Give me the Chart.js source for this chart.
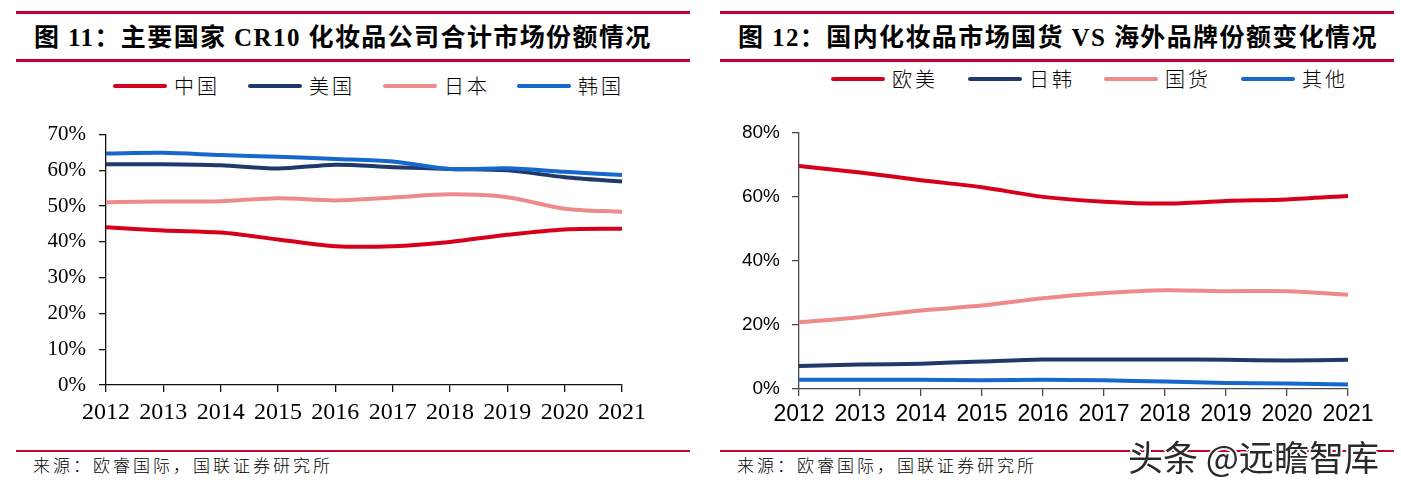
<!DOCTYPE html>
<html>
<head>
<meta charset="utf-8">
<script src="https://cdn.jsdelivr.net/npm/chart.js@4.4.1/dist/chart.umd.min.js"></script>
<style>
  body { margin: 0; background: #fff; width: 1401px; height: 487px; overflow: hidden; position: relative; }
  .rule { position: absolute; height: 3px; background: #C4002F; }
  .thin { height: 2px; }
  .titolo { position: absolute; top: 17px; font-family: "Liberation Serif", "Noto Sans CJK SC", serif; font-weight: bold; font-size: 25px; letter-spacing: 1.4px; color: #000; white-space: nowrap; }
  .fonte { position: absolute; top: 452px; font-family: "Liberation Serif", "Noto Sans CJK SC", serif; font-weight: 300; font-size: 17px; letter-spacing: 3px; color: #000; white-space: nowrap; }
  .leg { position: absolute; height: 24px; font-family: "Noto Sans CJK SC", serif; font-weight: 300; font-size: 20px; letter-spacing: 3px; color: #000; white-space: nowrap; }
  .leg span.seg { position: absolute; left: 0; top: 10px; width: 54px; height: 4px; border-radius: 2px; }
  .leg span.txt { position: absolute; left: 61px; top: -3px; }
  canvas { position: absolute; }
  #box_sx { position: absolute; left: 0; top: 109px; width: 700px; height: 326px; }
  #box_dx { position: absolute; left: 700px; top: 109px; width: 701px; height: 326px; }
  .filigrana { position: absolute; left: 1128px; top: 430px; font-family: "Noto Sans CJK SC", sans-serif; font-size: 35px; color: #2a2a2a; white-space: nowrap;
    text-shadow: -2px 0 #fff, 2px 0 #fff, 0 -2px #fff, 0 2px #fff, -1px -1px #fff, 1px 1px #fff, -1px 1px #fff, 1px -1px #fff; }
</style>
</head>
<body>

<div class="rule" style="left:16px; width:674px; top:11px;"></div>
<div class="rule" style="left:16px; width:674px; top:59px;"></div>
<div class="titolo" style="left:34px;">图 11：主要国家 CR10 化妆品公司合计市场份额情况</div>

<div class="rule" style="left:720px; width:674px; top:11px;"></div>
<div class="rule" style="left:720px; width:674px; top:59px;"></div>
<div class="titolo" style="left:738px;">图 12：国内化妆品市场国货 VS 海外品牌份额变化情况</div>

<div id="legenda_sx"></div>
<div id="legenda_dx"></div>

<div id="box_sx"><canvas id="grafico_paesi"></canvas></div>
<div id="box_dx"><canvas id="grafico_marchi"></canvas></div>

<div class="rule thin" style="left:16px; width:674px; top:450px;"></div>
<div class="fonte" style="left:33px;">来源：欧睿国际，国联证券研究所</div>
<div class="rule thin" style="left:720px; width:674px; top:450px;"></div>
<div class="fonte" style="left:737px;">来源：欧睿国际，国联证券研究所</div>
<div class="filigrana">头条 @远瞻智库</div>

<script>
// anni sull'asse x
var anni = ['2012', '2013', '2014', '2015', '2016', '2017', '2018', '2019', '2020', '2021'];

// grafico 11 - quota CR10 per paese (%)
var cina    = [44.1, 43.2, 42.6, 40.7, 38.8, 38.8, 40.0, 42.0, 43.5, 43.7];
var usa     = [61.7, 61.7, 61.4, 60.5, 61.6, 60.9, 60.4, 60.0, 58.1, 56.9];
var giappone = [51.1, 51.3, 51.4, 52.2, 51.6, 52.4, 53.3, 52.5, 49.3, 48.4];
var corea   = [64.7, 64.9, 64.3, 63.8, 63.2, 62.5, 60.4, 60.6, 59.6, 58.7];
var tick_sx = [0, 10, 20, 30, 40, 50, 60, 70];

// grafico 12 - quote mercato interno (%)
var euro_usa  = [69.5, 67.5, 65.1, 62.9, 59.9, 58.4, 57.8, 58.6, 59.1, 60.2];
var giap_corea = [7.2, 7.6, 7.9, 8.6, 9.2, 9.2, 9.2, 9.1, 8.9, 9.1];
var nazionali = [20.8, 22.4, 24.5, 26.0, 28.3, 29.9, 30.8, 30.5, 30.5, 29.4];
var altri     = [2.9, 2.9, 2.9, 2.7, 2.9, 2.7, 2.3, 1.9, 1.7, 1.4];
var tick_dx = [0, 20, 40, 60, 80];

var rosso = '#D7001B';
var blu_scuro = '#1F3A68';
var rosa = '#EE8A8A';
var blu = '#1668CC';

// legende html
function disegna_legenda(id, voci, colori, posizioni, top) {
  var html = '';
  for (var i = 0; i < voci.length; i++) {
    html += '<div class="leg" style="left:' + posizioni[i] + 'px; top:' + top + 'px;">' +
      '<span class="seg" style="background:' + colori[i] + '"></span>' +
      '<span class="txt">' + voci[i] + '</span></div>';
  }
  document.getElementById(id).innerHTML = html;
}

disegna_legenda('legenda_sx', ['中国', '美国', '日本', '韩国'], [rosso, blu_scuro, rosa, blu], [113, 248, 383, 517], 74);
disegna_legenda('legenda_dx', ['欧美', '日韩', '国货', '其他'], [rosso, blu_scuro, rosa, blu], [831, 968, 1104, 1241], 67);

function serie(etichetta, dati, colore, ordine) {
  return {
    label: etichetta,
    data: dati,
    borderColor: colore,
    backgroundColor: colore,
    borderWidth: 4,
    pointRadius: 0,
    tension: 0.3,
    fill: false,
    order: ordine
  };
}

function opzioni(max, passo, larghezza_y, altezza_x, pad_destra, font_y, font_x, colore_asse, pad_x, pad_y) {
  return {
    responsive: true,
    maintainAspectRatio: false,
    animation: false,
    layout: { padding: { top: 12, right: pad_destra, bottom: 0, left: 0 } },
    plugins: { legend: { display: false }, tooltip: { enabled: false } },
    scales: {
      x: {
        offset: false,
        grid: { drawOnChartArea: false, drawTicks: true, tickLength: 7, color: colore_asse, lineWidth: 1.3 },
        border: { display: true, color: colore_asse, width: 1.3 },
        ticks: { color: '#000', font: font_x, padding: pad_x, maxRotation: 0, autoSkip: false },
        afterFit: function(s) { s.height = altezza_x; }
      },
      y: {
        min: 0,
        max: max,
        grid: { drawOnChartArea: false, drawTicks: true, tickLength: 7, color: colore_asse, lineWidth: 1.3 },
        border: { display: true, color: colore_asse, width: 1.3 },
        ticks: { stepSize: passo, color: '#000', font: font_y, padding: pad_y,
          callback: function(v) { return v + '%'; } },
        afterFit: function(s) { s.width = larghezza_y; }
      }
    }
  };
}

new Chart(document.getElementById('grafico_paesi'), {
  type: 'line',
  data: {
    labels: anni,
    datasets: [
      serie('中国', cina, rosso, 4),
      serie('美国', usa, blu_scuro, 2),
      serie('日本', giappone, rosa, 3),
      serie('韩国', corea, blu, 1)
    ]
  },
  options: opzioni(tick_sx[tick_sx.length - 1], tick_sx[1] - tick_sx[0], 106, 50, 78,
    { family: 'Liberation Serif', size: 21 }, { family: 'Liberation Serif', size: 24 }, '#111', 6, 13)
});

new Chart(document.getElementById('grafico_marchi'), {
  type: 'line',
  data: {
    labels: anni,
    datasets: [
      serie('欧美', euro_usa, rosso, 1),
      serie('日韩', giap_corea, blu_scuro, 3),
      serie('国货', nazionali, rosa, 2),
      serie('其他', altri, blu, 4)
    ]
  },
  options: opzioni(tick_dx[tick_dx.length - 1], tick_dx[1] - tick_dx[0], 99, 46, 53,
    { family: 'Liberation Sans', size: 19 }, { family: 'Liberation Sans', size: 23 }, '#4a4a4a', 5, 12)
});
</script>
</body>
</html>
